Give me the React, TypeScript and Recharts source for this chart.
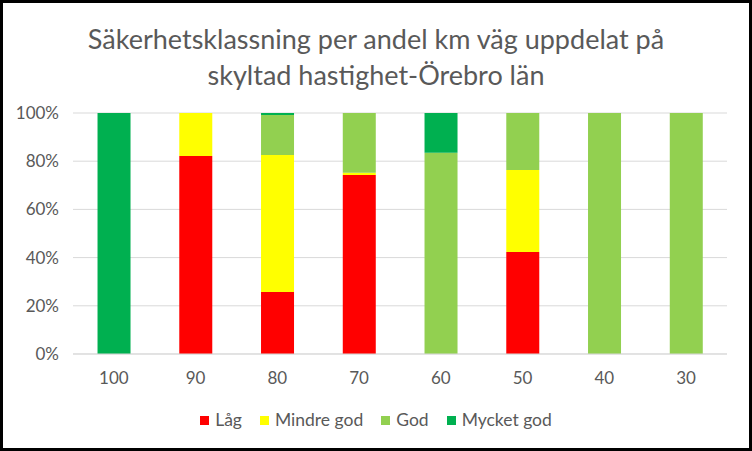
import { Bar, BarChart, CartesianGrid, XAxis, YAxis } from "recharts";

const speeds = ["100", "90", "80", "70", "60", "50", "40", "30"];
const lag = [0, 82.2, 25.7, 74.3, 0, 42.3, 0, 0];
const mindreGod = [0, 17.8, 56.9, 0.9, 0, 34, 0, 0];
const god = [0, 0, 16.6, 24.8, 83.5, 23.7, 100, 100];
const mycketGod = [100, 0, 0.8, 0, 16.5, 0, 0, 0];
const yTicks = [0, 20, 40, 60, 80, 100];

const FONT = "Lato, 'Noto Sans', sans-serif";
const TEXT = "#595959";

const series = [
  { key: "lag", name: "Låg", color: "#FF0000" },
  { key: "mindreGod", name: "Mindre god", color: "#FFFF00" },
  { key: "god", name: "God", color: "#92D050" },
  { key: "mycketGod", name: "Mycket god", color: "#00B050" },
];

const data = speeds.map((speed, i) => ({
  speed,
  lag: lag[i],
  mindreGod: mindreGod[i],
  god: god[i],
  mycketGod: mycketGod[i],
}));

function LegendRow() {
  return (
    <div
      style={{
        position: "absolute",
        top: 408,
        left: 0,
        width: 752,
        display: "flex",
        justifyContent: "center",
        gap: 18,
        fontSize: 17.5,
        lineHeight: "24px",
        color: TEXT,
      }}
    >
      {series.map((s) => (
        <div key={s.key} style={{ display: "flex", alignItems: "center", gap: 6 }}>
          <span style={{ width: 9, height: 9, background: s.color, display: "inline-block" }} />
          <span>{s.name}</span>
        </div>
      ))}
    </div>
  );
}

export default function App() {
  return (
    <div
      style={{
        position: "absolute",
        left: 0,
        top: 0,
        width: 752,
        height: 451,
        background: "#fff",
        fontFamily: FONT,
      }}
    >
      <div
        style={{
          position: "absolute",
          top: 21,
          left: 0,
          width: 752,
          textAlign: "center",
          fontSize: 27,
          lineHeight: "36px",
          color: TEXT,
        }}
      >
        Säkerhetsklassning per andel km väg uppdelat på
        <br />
        skyltad hastighet-Örebro län
      </div>
      <BarChart
        width={752}
        height={451}
        data={data}
        margin={{ top: 113, right: 25, bottom: 57, left: 0 }}
        barCategoryGap="30%"
      >
        <CartesianGrid stroke="#D9D9D9" vertical={false} />
        <XAxis
          dataKey="speed"
          axisLine={{ stroke: "#D9D9D9" }}
          tickLine={false}
          tick={{ fill: TEXT, fontSize: 17, fontFamily: FONT }}
          tickMargin={12}
          height={40}
        />
        <YAxis
          domain={[0, 100]}
          ticks={yTicks}
          tickFormatter={(v: number) => `${v}%`}
          axisLine={false}
          tickLine={false}
          tick={{ fill: TEXT, fontSize: 17, fontFamily: FONT }}
          width={73}
          tickMargin={8}
        />
        {series.map((s) => (
          <Bar
            key={s.key}
            dataKey={s.key}
            name={s.name}
            stackId="a"
            fill={s.color}
            isAnimationActive={false}
          />
        ))}
      </BarChart>
      <LegendRow />
      <div
        style={{
          position: "absolute",
          inset: 0,
          border: "3px solid #000",
          boxSizing: "border-box",
          pointerEvents: "none",
        }}
      />
    </div>
  );
}
